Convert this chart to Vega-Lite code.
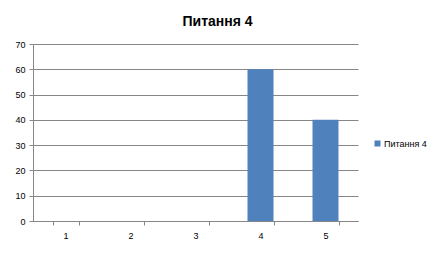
{
  "$schema": "https://vega.github.io/schema/vega-lite/v6.json",
  "autosize": "none",
  "width": 325,
  "height": 177,
  "padding": {"left": 33, "top": 44, "right": 78, "bottom": 39},
  "background": "white",
  "title": {
    "text": "Питання 4",
    "anchor": "middle",
    "frame": "group",
    "dx": 22,
    "offset": 11,
    "fontSize": 14,
    "font": "Liberation Sans",
    "fontWeight": "bold",
    "color": "#000000"
  },
  "data": {
    "values": [
      {"question": "1", "percent": 0, "series": "Питання 4"},
      {"question": "2", "percent": 0, "series": "Питання 4"},
      {"question": "3", "percent": 0, "series": "Питання 4"},
      {"question": "4", "percent": 60, "series": "Питання 4"},
      {"question": "5", "percent": 40, "series": "Питання 4"}
    ]
  },
  "mark": {"type": "bar"},
  "encoding": {
    "x": {
      "field": "question",
      "type": "ordinal",
      "scale": {"paddingInner": 0.6, "paddingOuter": 0.3},
      "axis": {
        "title": null,
        "labelAngle": 0,
        "tickBand": "extent",
        "grid": false,
        "domainColor": "#868686",
        "tickColor": "#868686",
        "tickSize": 4,
        "labelPadding": 6,
        "labelFont": "Liberation Sans",
        "labelFontSize": 9,
        "labelColor": "#000000"
      }
    },
    "y": {
      "field": "percent",
      "type": "quantitative",
      "scale": {"domain": [0, 70], "nice": false},
      "axis": {
        "title": null,
        "values": [0, 10, 20, 30, 40, 50, 60, 70],
        "grid": true,
        "gridColor": "#868686",
        "gridOpacity": 1,
        "domainColor": "#868686",
        "tickColor": "#868686",
        "tickSize": 4,
        "labelPadding": 4,
        "labelFont": "Liberation Sans",
        "labelFontSize": 9,
        "labelColor": "#000000"
      }
    },
    "color": {
      "field": "series",
      "type": "nominal",
      "scale": {"range": ["#4F81BD"]},
      "legend": {
        "title": null,
        "orient": "none",
        "legendX": 340,
        "legendY": 95,
        "symbolType": "square",
        "symbolSize": 36,
        "symbolStrokeWidth": 0,
        "labelFont": "Liberation Sans",
        "labelFontSize": 9,
        "labelColor": "#000000",
        "labelOffset": 2
      }
    }
  },
  "config": {
    "view": {"stroke": null}
  }
}
